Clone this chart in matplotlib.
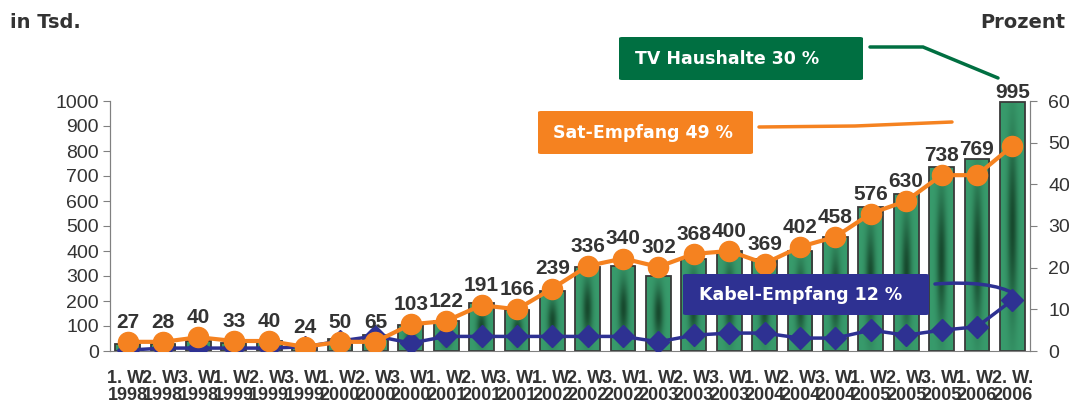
import numpy as np
import matplotlib
matplotlib.use("Agg")
import matplotlib.pyplot as plt
from matplotlib.patches import FancyBboxPatch, PathPatch
from matplotlib.path import Path
from matplotlib.colors import LinearSegmentedColormap

# Daten
perioden = ["1. W.\n1998", "2. W.\n1998", "3. W.\n1998",
            "1. W.\n1999", "2. W.\n1999", "3. W.\n1999",
            "1. W.\n2000", "2. W.\n2000", "3. W.\n2000",
            "1. W.\n2001", "2. W.\n2001", "3. W.\n2001",
            "1. W.\n2002", "2. W.\n2002", "3. W.\n2002",
            "1. W.\n2003", "2. W.\n2003", "3. W.\n2003",
            "1. W.\n2004", "2. W.\n2004", "3. W.\n2004",
            "1. W.\n2005", "2. W.\n2005", "3. W.\n2005",
            "1. W.\n2006", "2. W.\n2006"]
tv_haushalte = [27, 28, 40, 33, 40, 24, 50, 65, 103, 122, 191, 166, 239,
                336, 340, 302, 368, 400, 369, 402, 458, 576, 630, 738, 769, 995]
sat_prozent = [2.2, 2.2, 3.3, 2.4, 2.4, 1.0, 2.2, 2.2, 6.4, 7.2, 11.0, 10.0, 15.0,
               20.4, 22.2, 20.2, 23.3, 24.0, 21.0, 25.0, 27.4, 33.0, 36.0, 42.2, 42.2, 49.2]
kabel_prozent = [0.2, 0.7, 0.7, 0.7, 0.7, 1.0, 2.4, 3.6, 1.9, 3.5, 3.5, 3.5, 3.5,
                 3.5, 3.5, 2.2, 3.8, 4.3, 4.3, 3.1, 3.1, 5.0, 3.8, 5.0, 5.8, 12.2]

GRUEN = "#006f41"
ORANGE = "#f58220"
BLAU = "#2e3192"
TEXT = "#333333"

plt.rcParams['font.family'] = ['Liberation Sans', 'DejaVu Sans']

fig = plt.figure(figsize=(10.69, 4.04), dpi=100)
ax = fig.add_axes([110 / 1069, 1 - 351 / 404, 920 / 1069, 250 / 404])
ax2 = ax.twinx()

x = np.arange(len(tv_haushalte))
breite = 0.7

# Balken mit Verlauf
cmap = LinearSegmentedColormap.from_list("bar", ["#389b6c", "#174a2e"])
gx = np.linspace(0, 1, 60)
gy = np.linspace(0, 1, 120)
GX, GY = np.meshgrid(gx, gy)
dunkel = np.exp(-((GX - 0.5) / 0.2) ** 2) * np.exp(-((GY - 0.5) / 0.35) ** 2)

balken = ax.bar(x, tv_haushalte, width=breite, facecolor="none",
                edgecolor="#3a3a3a", linewidth=1.3, zorder=2)
for rect, h in zip(balken, tv_haushalte):
    x0 = rect.get_x()
    im = ax.imshow(dunkel, cmap=cmap, vmin=0, vmax=1, origin="lower",
                   extent=(x0, x0 + breite, 0, h), aspect="auto",
                   interpolation="bilinear", zorder=1.9)
    im.set_clip_path(rect)

ax.set_xlim(-0.5, len(x) - 0.5)
ax.set_ylim(0, 1000)
ax2.set_ylim(0, 60)

# Linien
ax2.plot(x, sat_prozent, color=ORANGE, lw=3, marker="o", ms=14.5,
         zorder=4, solid_capstyle="round")
ax2.plot(x, kabel_prozent, color=BLAU, lw=2.5, marker="D", ms=11,
         zorder=3)

# Werte ueber den Balken
for xi, v, s in zip(x, tv_haushalte, sat_prozent):
    y = max(v, s * 1000 / 60 + 40)
    ax2.annotate(str(v), (xi, y), xycoords=ax.transData,
                 xytext=(0, 0), textcoords="offset points",
                 ha="center", va="bottom", fontsize=15,
                 fontweight="bold", color=TEXT, zorder=6)

# Achsen
ax.set_yticks(range(0, 1001, 100))
ax2.set_yticks(range(0, 61, 10))
ax.set_xticks(x)
ax.set_xticklabels(perioden, fontsize=13, fontweight="bold", color=TEXT,
                   linespacing=1.0)
ax.tick_params(axis="x", length=0, pad=14)
ax.tick_params(axis="y", labelsize=14, labelcolor=TEXT, length=5,
               color="#808080", pad=3)
ax2.tick_params(axis="y", labelsize=14, labelcolor=TEXT, length=5,
                color="#808080", pad=8)
for a in (ax, ax2):
    a.spines["top"].set_visible(False)
    for s in ("left", "right", "bottom"):
        a.spines[s].set_color("#808080")
ax2.spines["bottom"].set_visible(False)

fig.text(10 / 1069, 1 - 22 / 404, "in Tsd.", family="DejaVu Sans",
         fontweight="bold", fontsize=14, color=TEXT, va="center")
fig.text(1065 / 1069, 1 - 22 / 404, "Prozent", family="DejaVu Sans",
         fontweight="bold", fontsize=14, color=TEXT, va="center", ha="right")


def px(xp, yp):
    return (xp / 1069, 1 - yp / 404)


def kasten(x0, y0, x1, y1, farbe, text, tx):
    bx, by = px(x0, y1)
    w = (x1 - x0) / 1069
    h = (y1 - y0) / 404
    fig.patches.append(FancyBboxPatch((bx, by), w, h,
                                      boxstyle="round,pad=0,rounding_size=0.003",
                                      transform=fig.transFigure,
                                      facecolor=farbe, edgecolor="none", zorder=10))
    fig.text(tx / 1069, 1 - (y0 + y1) / 2 / 404, text, family="DejaVu Sans",
             fontweight="bold", fontsize=12.5, color="white", va="center",
             ha="left", zorder=11)


def linie(punkte, farbe, lw, codes=None):
    verts = [px(a, b) for a, b in punkte]
    if codes is None:
        codes = [Path.MOVETO] + [Path.LINETO] * (len(verts) - 1)
    fig.patches.append(PathPatch(Path(verts, codes), transform=fig.transFigure,
                                 facecolor="none", edgecolor=farbe, lw=lw,
                                 capstyle="round", zorder=10))


kasten(619, 37, 863, 80, GRUEN, "TV Haushalte 30 %", 635)
linie([(870, 47), (923, 47), (998, 78)], GRUEN, 2.5)

kasten(538, 111, 753, 154, ORANGE, "Sat-Empfang 49 %", 553)
linie([(759, 127), (855, 126), (952, 122)], ORANGE, 2.5)

kasten(683, 274, 929, 315, BLAU, "Kabel-Empfang 12 %", 699)
linie([(935, 284), (990, 280), (1015, 294)], BLAU, 2.5,
      codes=[Path.MOVETO, Path.CURVE3, Path.CURVE3])

fig.savefig("out.png", dpi=100)
